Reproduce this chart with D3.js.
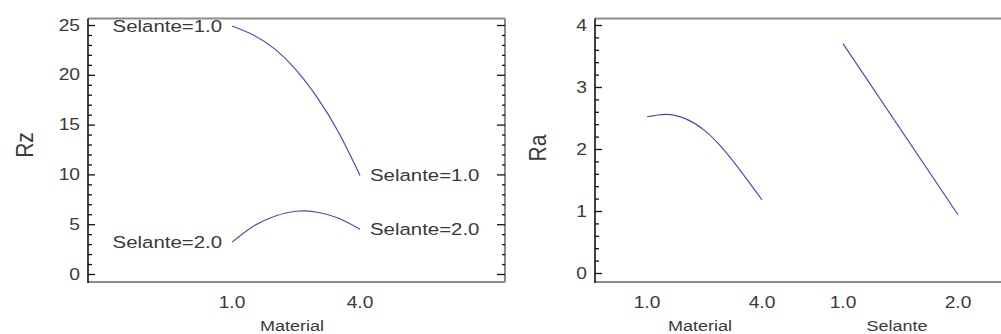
<!DOCTYPE html>
<html>
<head>
<meta charset="utf-8">
<script src="https://cdn.jsdelivr.net/npm/d3@7"></script>
<style>
  html, body { margin: 0; padding: 0; background: #fff; }
  svg { display: block; }
  text { font-family: "Liberation Sans", Arial, sans-serif; fill: #3a3a3a; }
</style>
</head>
<body>
<svg id="chart" width="1001" height="334"></svg>
<script>
// ---- data ----
const materialLevels = [1.0, 1.5, 2.0, 2.5, 3.0, 3.5, 4.0];
const rzSelante1 = [24.9, 24.0, 22.6, 20.5, 17.7, 14.2, 9.9];
const rzSelante2 = [3.2, 4.8, 5.8, 6.3, 6.2, 5.6, 4.5];
const raMaterial = [2.52, 2.56, 2.49, 2.30, 1.99, 1.60, 1.18];
const selanteLevels = [1.0, 2.0];
const raSelante = [3.70, 0.94];
const rzTicks = [0, 5, 10, 15, 20, 25];
const raTicks = [0, 1, 2, 3, 4];
const materialTickLabels = ["1.0", "4.0"];
const selanteTickLabels = ["1.0", "2.0"];
const seriesLabels = ["Selante=1.0", "Selante=2.0"];

const svg = d3.select("#chart");
const SX = 1.2;            // horizontal stretch of the reference text
const lineColor = "#4a4ac4";
const frameGrey = "#8c8c8c";

// ---- layout ----
const L = {left: 88, right: 505, top: 18.5, bottom: 282};
const R = {left: 595, right: 1001, top: 18.5, bottom: 282};

// ---- scales ----
const yL = d3.scaleLinear().domain([0, 25]).range([274, 25]);
const xL = d3.scaleLinear().domain([1, 4]).range([232, 360]);
const yR = d3.scaleLinear().domain([0, 4]).range([273, 25]);
const xRM = d3.scaleLinear().domain([1, 4]).range([647, 762]);
const xRS = d3.scaleLinear().domain([1, 2]).range([843, 958]);

function txt(g, x, y, s, size, anchor) {
  return g.append("text")
    .attr("transform", `translate(${x},${y}) scale(${SX},1)`)
    .attr("text-anchor", anchor || "middle")
    .attr("dy", "0.35em")
    .style("font-size", size + "px")
    .text(s);
}

function frame(P, hasRight) {
  const g = svg.append("g");
  g.append("line").attr("x1", P.left).attr("x2", P.right).attr("y1", P.top).attr("y2", P.top)
    .attr("stroke", frameGrey).attr("stroke-width", 2);
  g.append("line").attr("x1", P.left).attr("x2", P.right).attr("y1", P.bottom).attr("y2", P.bottom)
    .attr("stroke", frameGrey).attr("stroke-width", 2);
  if (hasRight) {
    g.append("line").attr("x1", P.right).attr("x2", P.right).attr("y1", P.top).attr("y2", P.bottom)
      .attr("stroke", frameGrey).attr("stroke-width", 2);
  }
  g.append("line").attr("x1", P.left).attr("x2", P.left).attr("y1", P.top).attr("y2", P.bottom + 1)
    .attr("stroke", "#111").attr("stroke-width", 1.6);
}

function yAxis(P, y, majors, minorStep, withRight) {
  const [d0, d1] = [majors[0], majors[majors.length - 1]];
  const minors = d3.range(d0, d1 + 1e-9, minorStep).filter(v => !majors.some(m => Math.abs(m - v) < 1e-9));
  const gl = svg.append("g").attr("transform", `translate(${P.left},0)`);
  gl.call(d3.axisLeft(y).tickValues(minors).tickSize(-4).tickFormat(""));
  gl.call(g => g.select(".domain").remove());
  const gm = svg.append("g").attr("transform", `translate(${P.left},0)`);
  gm.call(d3.axisLeft(y).tickValues(majors).tickSize(-7).tickFormat(d3.format("d")));
  gm.call(g => g.select(".domain").remove());
  gm.selectAll("text").remove();
  [gl, gm].forEach(g => g.selectAll("line").attr("stroke", "#111").attr("stroke-width", 1.3));
  majors.forEach(v => txt(svg, P.left - 8, y(v), String(v), 16, "end"));
  if (withRight) {
    const rl = svg.append("g").attr("transform", `translate(${P.right},0)`);
    rl.call(d3.axisRight(y).tickValues(minors).tickSize(-3).tickFormat(""));
    rl.call(g => g.select(".domain").remove());
    const rm = svg.append("g").attr("transform", `translate(${P.right},0)`);
    rm.call(d3.axisRight(y).tickValues(majors).tickSize(-8).tickFormat(""));
    rm.call(g => g.select(".domain").remove());
    [rl, rm].forEach(g => g.selectAll("line").attr("stroke", "#111").attr("stroke-width", 1.3));
  }
}

frame(L, true);
frame(R, false);
yAxis(L, yL, rzTicks, 1, true);
yAxis(R, yR, raTicks, 0.2, false);

// ---- lines ----
function drawLine(xs, ys, x, y) {
  const pts = xs.map((v, i) => [x(v), y(ys[i])]);
  svg.append("path")
    .attr("d", d3.line().curve(d3.curveNatural)(pts))
    .attr("fill", "none")
    .attr("stroke", lineColor)
    .attr("stroke-width", 1.2);
}
drawLine(materialLevels, rzSelante1, xL, yL);
drawLine(materialLevels, rzSelante2, xL, yL);
drawLine(materialLevels, raMaterial, xRM, yR);
svg.append("path")
  .attr("d", d3.line()(selanteLevels.map((v, i) => [xRS(v), yR(raSelante[i])])))
  .attr("fill", "none").attr("stroke", lineColor).attr("stroke-width", 1.2);

// ---- series labels ----
const first = 0, last = materialLevels.length - 1;
txt(svg, xL(materialLevels[first]) - 10, yL(rzSelante1[first]), seriesLabels[0], 17, "end");
txt(svg, xL(materialLevels[first]) - 10, yL(rzSelante2[first]), seriesLabels[1], 17, "end");
txt(svg, xL(materialLevels[last]) + 10, yL(rzSelante1[last]), seriesLabels[0], 17, "start");
txt(svg, xL(materialLevels[last]) + 10, yL(rzSelante2[last]), seriesLabels[1], 17, "start");

// ---- x tick labels ----
const tickY = 302;
materialTickLabels.forEach(s => txt(svg, xL(+s), tickY, s, 16));
materialTickLabels.forEach(s => txt(svg, xRM(+s), tickY, s, 16));
selanteTickLabels.forEach(s => txt(svg, xRS(+s), tickY, s, 16));

// ---- axis titles ----
const titleY = 326;
txt(svg, 292, titleY, "Material", 15);
txt(svg, 700, titleY, "Material", 15);
txt(svg, 897, titleY, "Selante", 15);

svg.append("text")
  .attr("transform", `translate(25,145) scale(1.15,1) rotate(-90)`)
  .attr("text-anchor", "middle").attr("dy", "0.35em")
  .style("font-size", "21px").text("Rz");
svg.append("text")
  .attr("transform", `translate(538,148) scale(1.15,1) rotate(-90)`)
  .attr("text-anchor", "middle").attr("dy", "0.35em")
  .style("font-size", "21px").text("Ra");
</script>
</body>
</html>
